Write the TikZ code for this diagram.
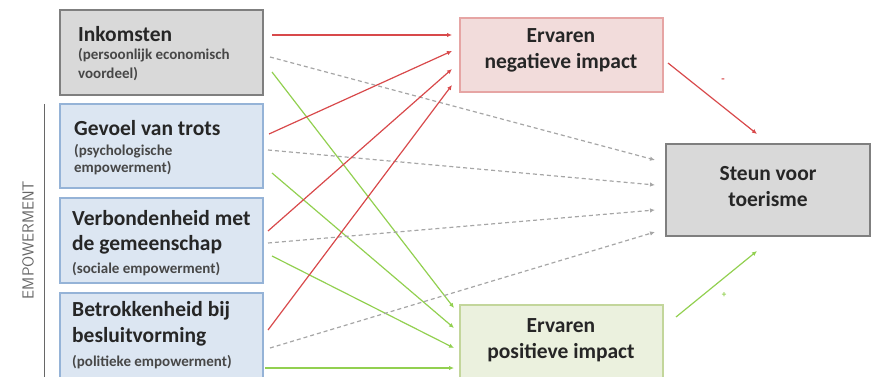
\documentclass[tikz,border=0pt]{standalone}
\usepackage{fontspec}
\setmainfont{Carlito}
\usetikzlibrary{arrows.meta}
\definecolor{txt}{HTML}{262626}
\definecolor{grayfill}{HTML}{D9D9D9}
\definecolor{grayline}{HTML}{7F7F7F}
\definecolor{bluefill}{HTML}{DCE6F2}
\definecolor{blueline}{HTML}{95B3D7}
\definecolor{pinkfill}{HTML}{F2DCDB}
\definecolor{pinkline}{HTML}{E6A5A4}
\definecolor{greenfill}{HTML}{EBF1DE}
\definecolor{greenline}{HTML}{C3D69B}
\definecolor{redarr}{HTML}{D8494B}
\definecolor{greenarr}{HTML}{92D050}
\definecolor{dasharr}{HTML}{A6A6A6}
\tikzset{
  box/.style={draw, line width=1.5pt, inner sep=0pt},
  title/.style={font=\fontsize{21.5}{26}\selectfont\bfseries, text=txt, anchor=west, inner sep=0pt},
  sub/.style={font=\fontsize{15}{18}\selectfont\bfseries, text=txt!85, anchor=west, inner sep=0pt},
  ctitle/.style={font=\fontsize{21.5}{26}\selectfont\bfseries, text=txt, align=center, inner sep=0pt},
  redA/.style={draw=redarr, line width=1.2pt, -{Latex[length=5pt,width=4.5pt]}},
  greenA/.style={draw=greenarr, line width=1.2pt, -{Latex[length=5pt,width=4.5pt]}},
  dashA/.style={draw=dasharr, line width=1.2pt, dash pattern=on 4pt off 3pt, -{Latex[length=5pt,width=4.5pt]}},
}
\begin{document}
\begin{tikzpicture}[x=1pt,y=-1pt]
\useasboundingbox (0,0) rectangle (872,377);
% boxes
\path[box, draw=grayline, fill=grayfill] (60,10) rectangle (263,95);
\path[box, draw=blueline, fill=bluefill] (60,104) rectangle (263,188);
\path[box, draw=blueline, fill=bluefill] (60,198) rectangle (263,283);
\path[box, draw=blueline, fill=bluefill] (60,293) rectangle (263,385);
\path[box, draw=pinkline, fill=pinkfill] (460,18) rectangle (663,92);
\path[box, draw=greenline, fill=greenfill] (460,305) rectangle (663,385);
\path[box, draw=grayline, fill=grayfill] (666,144) rectangle (870,236);
% texts
\node[title] (t1) at (78,34) {Inkomsten};
\node[sub] (s1a) at (78,55) {(persoonlijk economisch};
\node[sub] (s1b) at (78,74) {voordeel)};
\node[title] (t2) at (74,128) {Gevoel van trots};
\node[sub] (s2a) at (74,151) {(psychologische};
\node[sub] (s2b) at (74,168) {empowerment)};
\node[title] (t3a) at (72,218) {Verbondenheid met};
\node[title] (t3b) at (72,245) {de gemeenschap};
\node[sub] (s3) at (72,269) {(sociale empowerment)};
\node[title] (t4a) at (72,311) {Betrokkenheid bij};
\node[title] (t4b) at (72,337) {besluitvorming};
\node[sub] (s4) at (72,362) {(politieke empowerment)};
\node[ctitle] (neg) at (561,50) {Ervaren\\negatieve impact};
\node[ctitle] (pos) at (561,340) {Ervaren\\positieve impact};
\node[ctitle] (steun) at (768,187) {Steun voor\\toerisme};
% empowerment
\draw[draw=txt!70, line width=1pt] (44,104) -- (44,377);
\node[rotate=90, font=\fontsize{16}{16}\selectfont\sffamily, text=txt!70, inner sep=0pt] (emp) at (28,240) {EMPOWERMENT};
% coordinates for arrow ends
\coordinate (r1s) at (272,35);  \coordinate (r1e) at (452,35);
\coordinate (r2s) at (269,134); \coordinate (r2e) at (452,51);
\coordinate (r3s) at (268,231); \coordinate (r3e) at (452,69);
\coordinate (r4s) at (268,330); \coordinate (r4e) at (452,85);
\coordinate (d1s) at (270,57);  \coordinate (d1e) at (655,160);
\coordinate (d2s) at (268,150); \coordinate (d2e) at (655,185);
\coordinate (d3s) at (268,243); \coordinate (d3e) at (655,210);
\coordinate (d4s) at (270,348); \coordinate (d4e) at (655,232);
\coordinate (g1s) at (272,72);  \coordinate (g1e) at (454,308);
\coordinate (g2s) at (272,173); \coordinate (g2e) at (454,328);
\coordinate (g3s) at (272,256); \coordinate (g3e) at (454,348);
\coordinate (g4s) at (265,368); \coordinate (g4e) at (454,368);
\coordinate (ns) at (668,63);   \coordinate (ne) at (757,134);
\coordinate (ps) at (676,317);  \coordinate (pe) at (757,251);
% arrows
\draw[greenA] (g1s) -- (g1e);
\draw[greenA] (g2s) -- (g2e);
\draw[greenA] (g3s) -- (g3e);
\draw[greenA] (g4s) -- (g4e);
\draw[dashA] (d1s) -- (d1e);
\draw[dashA] (d2s) -- (d2e);
\draw[dashA] (d3s) -- (d3e);
\draw[dashA] (d4s) -- (d4e);
\draw[redA] (r1s) -- (r1e);
\draw[redA] (r2s) -- (r2e);
\draw[redA] (r3s) -- (r3e);
\draw[redA] (r4s) -- (r4e);
\draw[redA] (ns) -- (ne);
\draw[greenA] (ps) -- (pe);
\node[text=redarr, font=\fontsize{11}{11}\selectfont\bfseries, inner sep=0pt] (minus) at (723,81) {-};
\node[text=greenarr, font=\fontsize{9}{9}\selectfont\bfseries, inner sep=0pt] (plus) at (724,295) {+};
\end{tikzpicture}
\end{document}
